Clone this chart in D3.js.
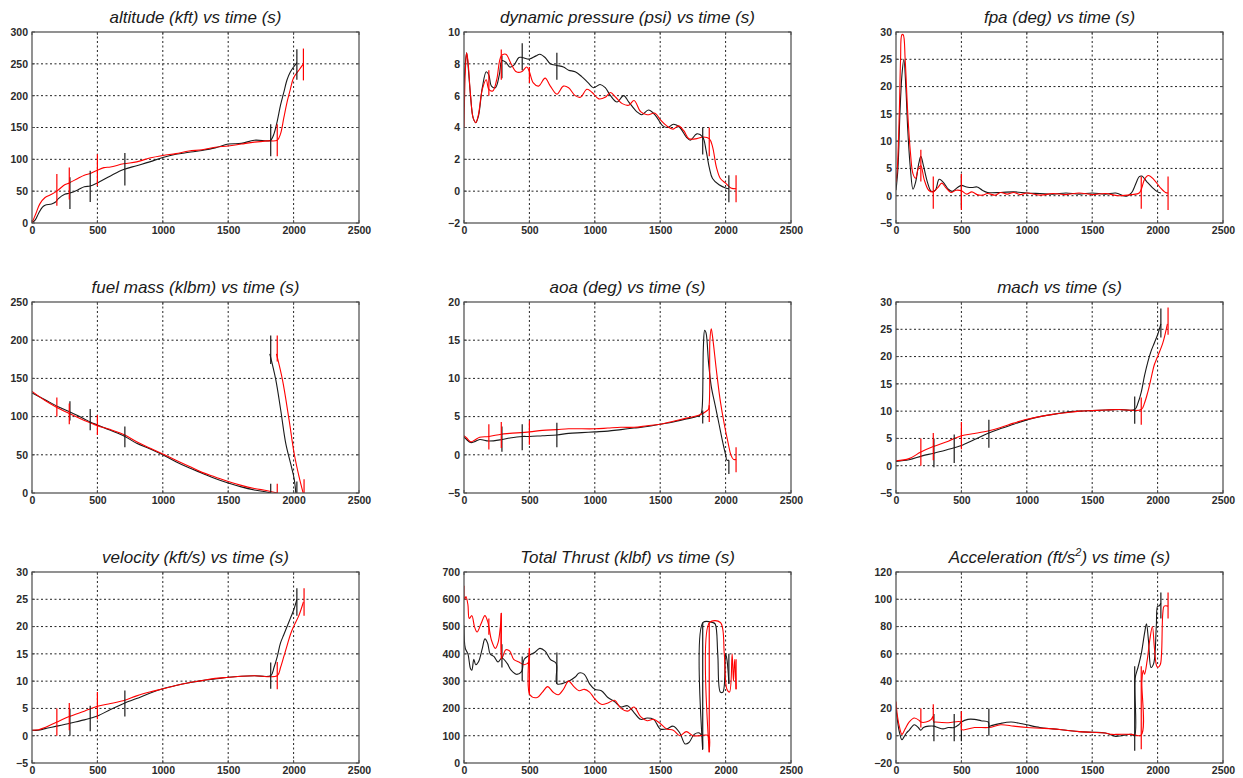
<!DOCTYPE html>
<html><head><meta charset="utf-8">
<script src="https://cdn.jsdelivr.net/npm/d3@7"></script>
<style>body{margin:0;background:#fff}svg{display:block}</style>
</head><body>
<svg id="c" width="1243" height="778"></svg>
<script>
// ---------- tick labels ----------
const xTicks = [0, 500, 1000, 1500, 2000, 2500];
const titles = ["altitude (kft) vs time (s)", "dynamic pressure (psi) vs time (s)", "fpa (deg) vs time (s)",
  "fuel mass (klbm)  vs time (s)", "aoa (deg) vs time (s)", "mach vs time (s)",
  "velocity (kft/s) vs time (s)", "Total Thrust (klbf) vs time (s)", "Acceleration (ft/s2) vs time (s)"];
const yDomains = [[0,300],[-2,10],[-5,30],[0,250],[-5,20],[-5,30],[-5,30],[0,700],[-20,120]];
const yTickSteps = [50, 2, 5, 50, 5, 5, 5, 100, 20];

// ---------- altitude ----------
const altBlack = [[0,0],[25,5],[50,15],[80,25],[100,28],[150,30],[180,33],[200,38],[250,45],[290,47],[350,52],[400,57],[445,58],[500,63],[600,74],[700,84],[800,90],[900,96],[1000,103],[1100,108],[1200,111],[1300,114],[1400,118],[1500,124],[1600,125],[1700,130],[1800,129],[1825,130],[1850,140],[1875,160],[1900,185],[1925,205],[1950,225],[1975,237],[2000,245],[2025,252]];
const altRed = [[0,0],[30,15],[60,30],[100,40],[150,45],[190,50],[250,60],[285,63],[350,70],[400,75],[450,78],[500,83],[550,87],[600,88],[700,93],[800,96],[900,102],[1000,106],[1100,109],[1200,113],[1300,115],[1400,119],[1500,121],[1600,124],[1700,127],[1800,129],[1875,130],[1900,140],[1925,165],[1950,190],[1975,210],[2000,228],[2040,240],[2075,250]];
const altMarksBlack = [[290,22,72],[445,33,82],[710,59,110],[1825,105,155],[2025,225,273]];
const altMarksRed = [[190,27,77],[285,37,87],[500,58,108],[1875,105,155],[2075,224,274]];

// ---------- dynamic pressure ----------
const qBlack = [[0,5.3],[0,6.5],[10,8],[20,8.7],[30,8],[50,6],[70,4.6],[90,4.3],[110,4.7],[140,6.5],[170,7.5],[190,7.3],[210,6.6],[240,6.5],[270,7.3],[290,8.2],[320,8.1],[350,7.8],[380,7.9],[420,8.4],[445,8.4],[500,8.3],[550,8.5],[580,8.6],[620,8.4],[660,8.0],[710,7.9],[760,7.8],[800,7.6],[850,7.5],[900,7.2],[950,6.8],[990,6.5],[1040,6.7],[1080,6.5],[1120,6.0],[1170,5.6],[1220,6.0],[1260,5.6],[1320,5.0],[1360,4.8],[1410,5.1],[1460,4.8],[1520,4.1],[1560,4.0],[1600,4.2],[1650,4.0],[1700,3.4],[1730,3.2],[1780,3.6],[1825,3.4],[1850,2.6],[1875,1.5],[1900,0.8],[1950,0.4],[2000,0.2],[2025,0.15]];
const qRed = [[0,4.0],[10,7.5],[20,8.7],[30,8.2],[50,6],[70,4.6],[90,4.3],[110,4.8],[140,6.4],[170,7.0],[190,6.4],[220,6.3],[250,7.0],[285,8.5],[320,8.6],[360,8.0],[400,7.5],[440,7.5],[480,7.8],[500,7.5],[530,6.8],[570,6.6],[620,7.1],[660,6.6],[710,6.1],[760,6.6],[800,6.5],[850,6.0],[890,5.9],[940,6.4],[980,6.2],[1030,5.8],[1080,5.9],[1120,6.2],[1160,5.9],[1210,5.5],[1260,5.4],[1300,5.7],[1350,5.0],[1400,4.8],[1460,4.9],[1500,4.5],[1550,4.1],[1600,3.9],[1640,4.1],[1680,3.8],[1720,3.3],[1780,3.3],[1830,3.4],[1875,3.3],[1900,2.8],[1930,1.5],[1960,0.8],[2000,0.5],[2040,0.2],[2080,0.15]];
const qMarksBlack = [[290,7.1,8.5],[445,7.6,9.3],[710,7.0,8.7],[1825,2.3,4.0],[2025,-0.7,1.0]];
const qMarksRed = [[190,6.0,7.6],[285,7.0,8.9],[500,6.8,7.8],[1875,2.2,4.0],[2080,-0.7,1.0]];

// ---------- fpa ----------
const fpaBlack = [[0,1],[15,5],[30,15],[45,22],[60,25],[75,20],[90,12],[110,5],[130,1.2],[150,2.5],[175,6],[190,7.2],[210,5.5],[240,2.5],[270,0.8],[300,1.0],[330,3.0],[360,2.5],[400,1.2],[430,0.8],[470,1.5],[500,1.9],[540,1.6],[580,1.5],[620,1.6],[660,1.0],[700,0.6],[800,0.6],[900,0.7],[1000,0.5],[1100,0.4],[1200,0.3],[1300,0.5],[1400,0.3],[1500,0.5],[1600,0.3],[1680,0.5],[1760,-0.1],[1800,0.5],[1830,2.0],[1860,3.5],[1880,3.6],[1920,2.5],[1960,1.5],[2000,0.7],[2025,0.5]];
const fpaRed = [[0,2.5],[10,5],[25,15],[35,25],[45,29.5],[55,29.5],[70,25],[90,15],[110,8],[130,4],[150,3.2],[170,5],[190,5.5],[215,3],[250,1],[285,0.7],[320,1.5],[350,2.3],[380,1.5],[420,0.6],[460,1.0],[500,0.9],[540,0.3],[580,0.7],[620,0.2],[660,0.1],[700,0.4],[760,0.1],[800,0.6],[850,0.3],[900,0.6],[950,0.2],[1000,0.5],[1100,0.1],[1200,0.4],[1300,0.2],[1400,0.5],[1500,0.2],[1600,0.4],[1700,0.0],[1800,0.2],[1860,0.5],[1880,1.5],[1900,3.0],[1930,3.7],[1970,3.0],[2020,1.5],[2060,0.6],[2080,0.5]];
const fpaMarksBlack = [[500,-2.2,4.0]];
const fpaMarksRed = [[190,2.6,8.4],[285,-2.4,3.5],[500,-2.6,4.0],[1875,-2.4,3.5],[2080,-2.6,3.5]];

// ---------- fuel mass ----------
const fuelBlack = [[0,131],[100,122],[200,113],[290,106],[400,97],[445,93],[500,89],[600,82],[710,74],[800,65],[900,58],[1000,50],[1100,41],[1200,33],[1300,26],[1400,19],[1500,13],[1600,8],[1700,4],[1800,1],[1825,0],[1825,null],[1818,182],[1864,148],[1902,108],[1940,65],[1978,38],[2004,19],[2017,0]];
const fuelRed = [[0,133],[100,121],[190,112],[285,104],[400,95],[500,88],[600,83],[710,76],[800,67],[900,59],[1000,51],[1100,43],[1200,35],[1300,27],[1400,21],[1500,15],[1600,10],[1700,6],[1800,3],[1875,0],[1875,null],[1869,182],[1915,148],[1966,95],[2004,52],[2042,21],[2073,0]];
const fuelMarksBlack = [[290,95,120],[445,82,110],[710,60,87],[1825,0,12],[1825,169,206],[2025,0,15]];
const fuelMarksRed = [[190,100,125],[285,90,117],[500,76,102],[1875,0,12],[1875,172,206],[2080,0,18]];

// ---------- aoa ----------
const aoaBlack = [[0,2.3],[20,2.0],[50,1.6],[80,1.7],[120,2.0],[190,1.8],[290,2.0],[350,2.2],[445,2.4],[500,2.4],[600,2.5],[710,2.6],[800,2.8],[900,2.9],[1000,3.0],[1100,3.1],[1200,3.3],[1300,3.5],[1400,3.7],[1500,4.0],[1600,4.3],[1700,4.7],[1780,5.0],[1810,5.3],[1820,6.0],[1830,14],[1840,16.3],[1850,16],[1870,12],[1890,9],[1920,6.5],[1950,4],[1980,1.5],[2000,0],[2010,-0.7],[2025,-0.7]];
const aoaRed = [[0,2.5],[20,2.2],[50,1.7],[80,1.9],[120,2.3],[190,2.4],[285,2.7],[350,2.8],[500,3.0],[600,3.2],[710,3.3],[800,3.4],[1000,3.4],[1100,3.5],[1200,3.6],[1300,3.6],[1400,3.8],[1500,4.0],[1600,4.4],[1700,4.8],[1800,5.2],[1860,5.8],[1870,6.0],[1880,15],[1890,16.5],[1900,15.5],[1930,11],[1960,7],[1990,4],[2020,1.5],[2040,0],[2060,-0.6],[2080,-0.6]];
const aoaMarksBlack = [[290,0.4,3.7],[445,0.6,4.0],[710,1.0,4.2],[1825,4.1,5.8],[2025,-2.5,-0.7]];
const aoaMarksRed = [[190,0.7,4.0],[285,0.9,4.3],[500,1.3,4.5],[1875,4.3,6.5],[2080,-2.3,1.0]];

// ---------- mach ----------
const machBlack = [[0,0.8],[100,1.1],[200,1.8],[290,2.3],[400,3.0],[445,3.3],[500,3.7],[600,4.8],[710,6.0],[800,6.8],[900,7.6],[1000,8.4],[1100,9.0],[1200,9.4],[1300,9.8],[1400,10.0],[1500,10.1],[1600,10.2],[1700,10.3],[1825,10.3],[1850,11.5],[1875,13.5],[1900,16.5],[1925,19],[1950,21],[1975,22.5],[2000,24],[2025,26]];
const machRed = [[0,0.9],[100,1.3],[190,2.5],[285,3.5],[400,4.5],[500,5.5],[600,5.9],[710,6.4],[800,7.0],[900,7.8],[1000,8.5],[1100,9.0],[1200,9.4],[1300,9.7],[1400,10.0],[1500,10.1],[1600,10.2],[1700,10.3],[1875,10.3],[1900,11.5],[1925,13.5],[1950,16],[1975,18.5],[2000,20],[2040,22.5],[2075,26]];
const machMarksBlack = [[290,-0.3,5.0],[445,0.5,5.7],[710,3.3,8.4],[1825,7.7,12.7],[2025,23.5,28.8]];
const machMarksRed = [[190,0,5],[285,1,6],[500,3,8],[1875,7.5,12.5],[2080,24,29]];

// ---------- velocity ----------
const velBlack = [[0,1.0],[50,1.0],[100,1.3],[200,1.8],[290,2.3],[400,2.9],[445,3.2],[500,3.6],[600,4.8],[710,6.0],[800,6.8],[900,7.8],[1000,8.6],[1100,9.2],[1200,9.7],[1300,10.1],[1400,10.4],[1500,10.7],[1600,10.9],[1700,11.0],[1825,11.0],[1850,12.5],[1875,14.5],[1900,17],[1925,18.5],[1950,20],[1975,21.5],[2000,23],[2025,25]];
const velRed = [[0,1.0],[50,1.1],[100,1.5],[190,2.5],[285,3.5],[400,4.5],[500,5.4],[600,5.9],[710,6.5],[800,7.3],[900,8.0],[1000,8.6],[1100,9.2],[1200,9.7],[1300,10.1],[1400,10.5],[1500,10.7],[1600,10.9],[1700,11.0],[1875,11.0],[1900,12.5],[1925,14.5],[1950,16.5],[1975,18.5],[2000,20],[2040,22],[2075,24.5]];
const velMarksBlack = [[290,0,5],[445,0.8,5.5],[710,3.5,8.3],[1825,8.6,13.4],[2025,22,27]];
const velMarksRed = [[190,0,5],[285,1,6],[500,3,8],[1875,8.5,13.5],[2080,22,27]];

// ---------- thrust ----------
const thrBlack = [[0,505],[10,420],[30,400],[50,345],[60,340],[75,380],[90,360],[110,370],[140,420],[160,455],[180,440],[200,400],[230,390],[260,370],[290,385],[330,365],[360,340],[400,325],[440,335],[460,380],[500,395],[540,405],[580,420],[620,410],[660,380],[705,365],[712,290],[800,300],[850,315],[880,330],[920,325],[960,290],[1000,270],[1050,265],[1100,240],[1150,225],[1200,205],[1250,210],[1300,185],[1350,160],[1400,165],[1450,160],[1500,125],[1550,125],[1600,135],[1650,110],[1690,70],[1720,75],[1760,105],[1800,110],[1820,95],[1824,50],[1828,515],[1900,515],[1920,510],[1940,400],[1960,260],[1980,260],[2000,400],[2010,380],[2020,330],[2025,290]];
const thrRed = [[0,650],[5,600],[15,610],[30,580],[40,530],[60,540],[80,500],[100,480],[130,510],[160,540],[180,520],[190,500],[210,450],[240,420],[260,440],[278,500],[285,550],[290,385],[320,415],[350,410],[380,380],[420,370],[460,360],[495,370],[500,420],[504,250],[560,240],[600,260],[640,280],[680,260],[720,250],[760,270],[800,300],[840,280],[880,265],[920,270],[960,260],[1000,235],[1050,215],[1100,220],[1150,230],[1200,200],[1250,190],[1300,205],[1350,170],[1400,155],[1450,160],[1500,145],[1550,125],[1600,120],[1650,100],[1700,115],[1750,100],[1800,100],[1870,100],[1874,40],[1878,515],[1960,515],[1990,400],[2010,270],[2030,260],[2050,400],[2060,300],[2070,380],[2080,270]];
const thrMarksBlack = [[290,350,435],[445,300,390],[710,290,405],[1825,50,515],[2025,290,400]];
const thrMarksRed = [[190,470,530],[285,380,550],[500,250,420],[1875,40,515],[2080,270,380]];

// ---------- acceleration ----------
const accBlack = [[0,20],[10,12],[25,3],[45,-3],[60,-1],[80,2],[100,4],[140,8],[170,6],[190,4],[210,6],[250,7],[290,7],[320,6],[360,5],[400,6],[445,6],[480,8],[500,10],[550,12],[600,12],[650,11],[706,10],[712,6],[720,7],[800,9],[880,10],[950,9],[1000,8],[1100,6],[1200,5],[1300,4],[1400,3],[1500,2.5],[1600,2],[1680,-0.5],[1720,0],[1800,1],[1824,0],[1828,42],[1850,50],[1875,60],[1900,75],[1915,82],[1930,70],[1950,50],[1970,53],[1990,80],[2000,95],[2010,95],[2025,97]];
const accRed = [[0,25],[10,15],[30,5],[45,1],[70,5],[100,10],[140,13],[180,11],[190,10],[230,10],[270,12],[283,14],[290,10],[300,10],[400,9.5],[498,10],[504,4.5],[600,6],[710,6],[800,8],[900,7],[1000,6],[1100,5.5],[1200,5],[1300,4],[1400,3],[1500,2.5],[1600,2],[1650,1],[1700,1],[1800,1],[1874,0.5],[1880,40],[1890,48],[1900,45],[1920,55],[1940,70],[1960,80],[1975,65],[1990,52],[2000,50],[2020,52],[2030,60],[2040,90],[2050,95],[2080,95]];
const accMarksBlack = [[290,-4,16],[445,-4,16],[500,-4,18],[710,0,20],[1825,-11,51],[2025,86,105]];
const accMarksRed = [[190,6,20],[285,11,23],[500,4,18],[1875,-10,51],[2080,86,105]];

// ---------- panels ----------
const blackSeries = [altBlack, qBlack, fpaBlack, fuelBlack, aoaBlack, machBlack, velBlack, thrBlack, accBlack];
const redSeries = [altRed, qRed, fpaRed, fuelRed, aoaRed, machRed, velRed, thrRed, accRed];
const blackMarks = [altMarksBlack, qMarksBlack, fpaMarksBlack, fuelMarksBlack, aoaMarksBlack, machMarksBlack, velMarksBlack, thrMarksBlack, accMarksBlack];
const redMarks = [altMarksRed, qMarksRed, fpaMarksRed, fuelMarksRed, aoaMarksRed, machMarksRed, velMarksRed, thrMarksRed, accMarksRed];

const svg = d3.select("#c");
const colX = [32, 464, 896], rowY = [32, 302, 572];
const W = 327, H = 191;
const FONT = "'Liberation Sans', Arial, sans-serif";
const BLACK = "#1a1a1a", RED = "#ff0000";

for (let i = 0; i < 9; i++) {
  const ox = colX[i % 3], oy = rowY[Math.floor(i / 3)];
  const g = svg.append("g").attr("transform", `translate(${ox},${oy})`);
  const x = d3.scaleLinear().domain([0, 2500]).range([0, W]);
  const y = d3.scaleLinear().domain(yDomains[i]).range([H, 0]);
  const yt = d3.range(yDomains[i][0], yDomains[i][1] + 1e-9, yTickSteps[i]);

  // grid
  const grid = g.append("g").attr("stroke", "#222").attr("stroke-width", 1).attr("stroke-dasharray", "2,2.5");
  xTicks.slice(1, -1).forEach(t => grid.append("line").attr("x1", x(t)).attr("x2", x(t)).attr("y1", 0).attr("y2", H));
  yt.slice(1, -1).forEach(t => grid.append("line").attr("x1", 0).attr("x2", W).attr("y1", y(t)).attr("y2", y(t)));

  // axes via d3
  const xa = g.append("g").attr("transform", `translate(0,${H})`)
    .call(d3.axisBottom(x).tickValues(xTicks).tickSize(0).tickPadding(4).tickFormat(d3.format("d")));
  const ya = g.append("g")
    .call(d3.axisLeft(y).tickValues(yt).tickSize(0).tickPadding(4).tickFormat(d3.format("d")));
  [xa, ya].forEach(a => {
    a.select(".domain").remove();
    a.selectAll("text").attr("font-family", FONT).attr("font-size", 10.5).attr("font-weight", "bold").attr("fill", "#2b2b2b");
  });

  // small inner ticks (MATLAB style)
  const tk = g.append("g").attr("stroke", "#555").attr("stroke-width", 1);
  xTicks.forEach(t => { tk.append("line").attr("x1", x(t)).attr("x2", x(t)).attr("y1", H).attr("y2", H - 3);
                        tk.append("line").attr("x1", x(t)).attr("x2", x(t)).attr("y1", 0).attr("y2", 3); });
  yt.forEach(t => { tk.append("line").attr("x1", 0).attr("x2", 3).attr("y1", y(t)).attr("y2", y(t));
                    tk.append("line").attr("x1", W).attr("x2", W - 3).attr("y1", y(t)).attr("y2", y(t)); });

  const clipId = "clip" + i;
  g.append("clipPath").attr("id", clipId).append("rect").attr("x", 0).attr("y", 0).attr("width", W).attr("height", H);
  const plot = g.append("g").attr("clip-path", `url(#${clipId})`);

  const line = d3.line().x(d => x(d[0])).y(d => y(d[1])).curve(d3.curveCatmullRom.alpha(0.5));
  const segs = s => { const out = [[]]; s.forEach(d => { if (d[1] == null) out.push([]); else out[out.length - 1].push(d); }); return out.filter(a => a.length); };

  segs(blackSeries[i]).forEach(s => plot.append("path").attr("d", line(s)).attr("fill", "none").attr("stroke", BLACK).attr("stroke-width", 1.1));
  segs(redSeries[i]).forEach(s => plot.append("path").attr("d", line(s)).attr("fill", "none").attr("stroke", RED).attr("stroke-width", 1.1));

  plot.selectAll(".mb").data(blackMarks[i]).join("line").attr("x1", d => x(d[0])).attr("x2", d => x(d[0]))
    .attr("y1", d => y(d[1])).attr("y2", d => y(d[2])).attr("stroke", BLACK).attr("stroke-width", 1.2);
  plot.selectAll(".mr").data(redMarks[i]).join("line").attr("x1", d => x(d[0])).attr("x2", d => x(d[0]))
    .attr("y1", d => y(d[1])).attr("y2", d => y(d[2])).attr("stroke", RED).attr("stroke-width", 1.2);

  // frame
  g.append("rect").attr("width", W).attr("height", H).attr("fill", "none").attr("stroke", "#4a4a4a").attr("stroke-width", 1.2);

  // title
  const tt = g.append("text").attr("x", W / 2).attr("y", -9).attr("text-anchor", "middle")
    .attr("font-family", FONT).attr("font-size", 17).attr("font-style", "italic").attr("fill", "#1a1a1a");
  const title = titles[i];
  if (title.indexOf("s2") >= 0) {
    const parts = title.split("s2");
    tt.append("tspan").text(parts[0] + "s");
    tt.append("tspan").attr("dy", -7).attr("font-size", 11).text("2");
    tt.append("tspan").attr("dy", 7).text(parts[1]);
  } else tt.text(title);
}
</script>
</body></html>
